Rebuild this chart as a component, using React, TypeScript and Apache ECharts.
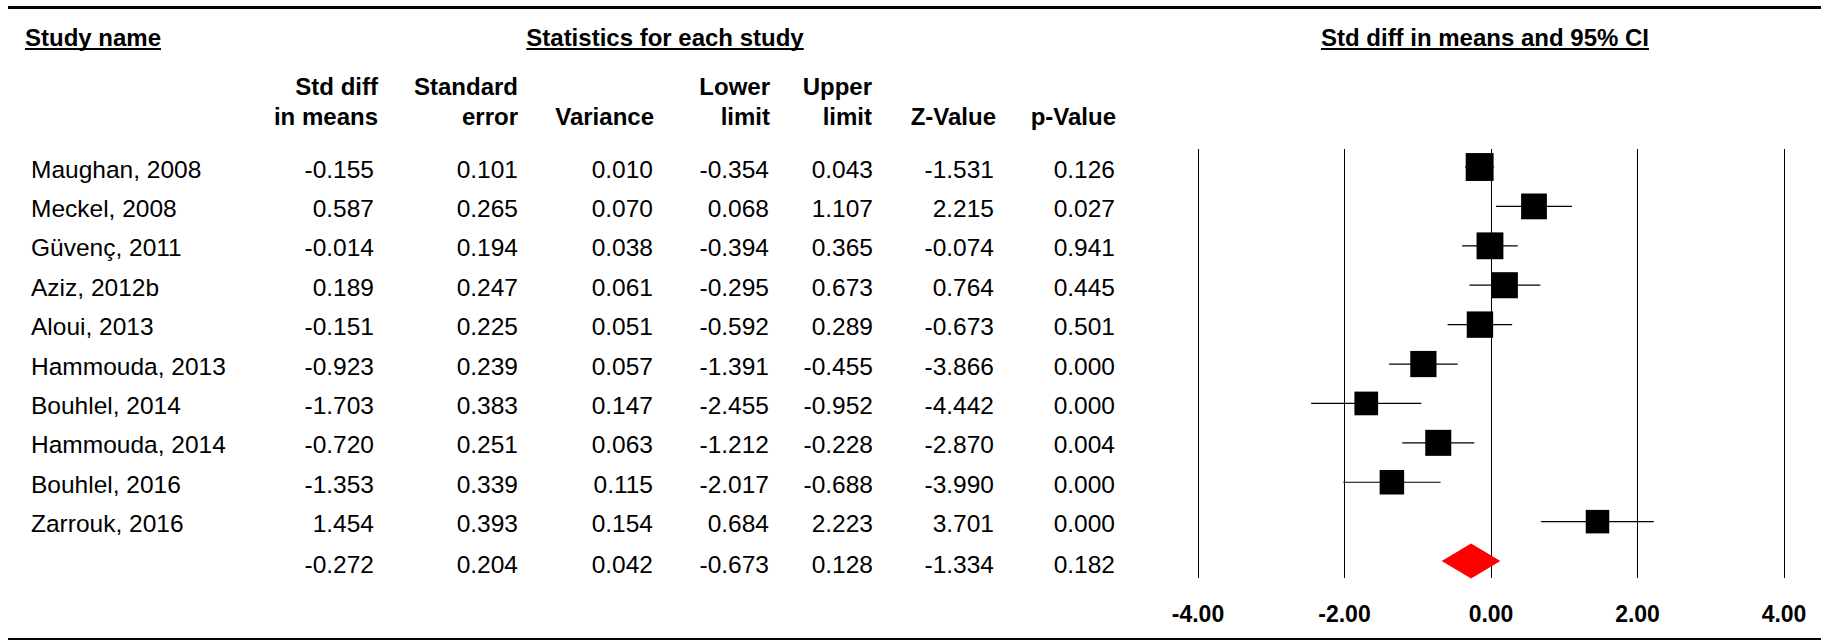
import React, { useEffect, useRef } from "react";
import * as echarts from "echarts";

// ---------- data ----------
const studies = [
  "Maughan, 2008",
  "Meckel, 2008",
  "Güvenç, 2011",
  "Aziz, 2012b",
  "Aloui, 2013",
  "Hammouda, 2013",
  "Bouhlel, 2014",
  "Hammouda, 2014",
  "Bouhlel, 2016",
  "Zarrouk, 2016",
];
const stdDiff = [-0.155, 0.587, -0.014, 0.189, -0.151, -0.923, -1.703, -0.72, -1.353, 1.454];
const stdErr = [0.101, 0.265, 0.194, 0.247, 0.225, 0.239, 0.383, 0.251, 0.339, 0.393];
const variance = [0.01, 0.07, 0.038, 0.061, 0.051, 0.057, 0.147, 0.063, 0.115, 0.154];
const lowerLimit = [-0.354, 0.068, -0.394, -0.295, -0.592, -1.391, -2.455, -1.212, -2.017, 0.684];
const upperLimit = [0.043, 1.107, 0.365, 0.673, 0.289, -0.455, -0.952, -0.228, -0.688, 2.223];
const zValue = [-1.531, 2.215, -0.074, 0.764, -0.673, -3.866, -4.442, -2.87, -3.99, 3.701];
const pValue = [0.126, 0.027, 0.941, 0.445, 0.501, 0.0, 0.0, 0.004, 0.0, 0.0];
// combined (random effects) row: std diff, SE, variance, lower, upper, Z, p
const summaryRow = [-0.272, 0.204, 0.042, -0.673, 0.128, -1.334, 0.182];
const xTicks = [-4, -2, 0, 2, 4];

const headerLine1 = ["Std diff", "Standard", "", "Lower", "Upper", "", ""];
const headerLine2 = ["in means", "error", "Variance", "limit", "limit", "Z-Value", "p-Value"];

// ---------- layout ----------
const FONT = "Arial, 'Liberation Sans', Helvetica, sans-serif";
const PLOT_LEFT = 1198;
const PLOT_WIDTH = 586;
const PLOT_TOP = 149;
const PLOT_BOTTOM = 578;
const Y_MIN = -0.457;
const Y_MAX = 10.43;
const HEADER_RIGHT = [378, 518, 654, 770, 872, 996, 1116];
const DATA_RIGHT = [374, 518, 653, 769, 873, 994, 1115];
const NAME_LEFT = 31;

const rowY = (i: number) =>
  PLOT_TOP + ((i - Y_MIN) / (Y_MAX - Y_MIN)) * (PLOT_BOTTOM - PLOT_TOP);

function measure(text: string, font: string): number {
  const c = document.createElement("canvas").getContext("2d");
  if (!c) return text.length * 12;
  c.font = font;
  return c.measureText(text).width;
}

// DerSimonian-Laird between-study variance (for box sizes = weights)
function tau2DL(): number {
  const w = variance.map((v) => 1 / v);
  const sw = w.reduce((a, b) => a + b, 0);
  const sw2 = w.reduce((a, b) => a + b * b, 0);
  const mean = w.reduce((a, wi, i) => a + wi * stdDiff[i], 0) / sw;
  const q = w.reduce((a, wi, i) => a + wi * (stdDiff[i] - mean) ** 2, 0);
  const c = sw - sw2 / sw;
  return Math.max(0, (q - (w.length - 1)) / c);
}

export default function App() {
  const ref = useRef<HTMLDivElement>(null);

  useEffect(() => {
    if (!ref.current) return;
    const chart = echarts.init(ref.current, undefined, { renderer: "svg" });

    const tau2 = tau2DL();
    const boxSize = variance.map((v) => 16.6 * Math.sqrt(1 / (v + tau2)));

    const graphics: any[] = [];
    const boldFont = `bold 24px ${FONT}`;

    // top and bottom rules
    graphics.push({
      type: "rect",
      shape: { x: 8, y: 6, width: 1821 - 8, height: 3 },
      style: { fill: "#000" },
    });
    graphics.push({
      type: "rect",
      shape: { x: 8, y: 638, width: 1821 - 8, height: 2 },
      style: { fill: "#000" },
    });

    // underlined section titles
    const titles = [
      { text: "Study name", x: 25, align: "left" },
      { text: "Statistics for each study", x: 665, align: "center" },
      { text: "Std diff in means and 95% CI", x: 1485, align: "center" },
    ];
    titles.forEach((t) => {
      const w = measure(t.text, boldFont);
      const x0 = t.align === "left" ? t.x : t.x - w / 2;
      graphics.push({
        type: "text",
        style: {
          text: t.text,
          x: t.x,
          y: 37,
          align: t.align,
          verticalAlign: "middle",
          fontFamily: FONT,
          fontSize: 24,
          fontWeight: "bold",
          fill: "#000",
        },
      });
      graphics.push({
        type: "rect",
        shape: { x: x0, y: 48, width: w, height: 2 },
        style: { fill: "#000" },
      });
    });

    // column headers
    HEADER_RIGHT.forEach((xr, c) => {
      [headerLine1[c], headerLine2[c]].forEach((txt, k) => {
        if (!txt) return;
        graphics.push({
          type: "text",
          style: {
            text: txt,
            x: xr,
            y: k === 0 ? 86 : 116,
            align: "right",
            verticalAlign: "middle",
            fontFamily: FONT,
            fontSize: 24,
            fontWeight: "bold",
            fill: "#000",
          },
        });
      });
    });

    // study rows
    const cols = [stdDiff, stdErr, variance, lowerLimit, upperLimit, zValue, pValue];
    const bodyText = (text: string, x: number, y: number, align: string) => ({
      type: "text",
      style: {
        text,
        x,
        y,
        align,
        verticalAlign: "middle",
        fontFamily: FONT,
        fontSize: 24.5,
        fill: "#000",
      },
    });
    studies.forEach((name, i) => {
      const y = rowY(i) + 2;
      graphics.push(bodyText(name, NAME_LEFT, y, "left"));
      cols.forEach((arr, c) => {
        graphics.push(bodyText(arr[i].toFixed(3), DATA_RIGHT[c], y, "right"));
      });
    });
    summaryRow.forEach((v, c) => {
      graphics.push(bodyText(v.toFixed(3), DATA_RIGHT[c], rowY(studies.length) + 3, "right"));
    });

    const studyData = studies.map((_, i) => [
      i,
      stdDiff[i],
      lowerLimit[i],
      upperLimit[i],
      boxSize[i],
    ]);
    const summaryData = [[studies.length, summaryRow[0], summaryRow[3], summaryRow[4]]];

    chart.setOption({
      animation: false,
      grid: {
        left: PLOT_LEFT,
        width: PLOT_WIDTH,
        top: PLOT_TOP,
        height: PLOT_BOTTOM - PLOT_TOP,
        containLabel: false,
      },
      xAxis: {
        type: "value",
        min: xTicks[0],
        max: xTicks[xTicks.length - 1],
        interval: 2,
        axisLine: { show: false },
        axisTick: { show: false },
        splitLine: { show: true, lineStyle: { color: "#000", width: 1 } },
        axisLabel: {
          formatter: (v: number) => v.toFixed(2),
          fontFamily: FONT,
          fontSize: 23,
          fontWeight: "bold",
          color: "#000",
          margin: 24,
        },
      },
      yAxis: {
        type: "value",
        min: Y_MIN,
        max: Y_MAX,
        inverse: true,
        show: false,
        splitLine: { show: false },
      },
      series: [
        {
          type: "custom",
          data: studyData,
          encode: { x: [1, 2, 3], y: 0 },
          renderItem: (params: any, api: any) => {
            const i = api.value(0);
            const est = api.coord([api.value(1), i]);
            const lo = api.coord([api.value(2), i]);
            const hi = api.coord([api.value(3), i]);
            const s = api.value(4);
            return {
              type: "group",
              children: [
                {
                  type: "line",
                  shape: { x1: lo[0], y1: lo[1], x2: hi[0], y2: hi[1] },
                  style: { stroke: "#000", lineWidth: 1.2 },
                },
                {
                  type: "rect",
                  shape: { x: est[0] - s / 2, y: est[1] - s / 2, width: s, height: s },
                  style: { fill: "#000" },
                },
              ],
            };
          },
        },
        {
          type: "custom",
          data: summaryData,
          encode: { x: [1, 2, 3], y: 0 },
          renderItem: (params: any, api: any) => {
            const i = api.value(0);
            const est = api.coord([api.value(1), i]);
            const lo = api.coord([api.value(2), i]);
            const hi = api.coord([api.value(3), i]);
            const h = 17.5;
            return {
              type: "polygon",
              shape: {
                points: [
                  [lo[0], est[1]],
                  [est[0], est[1] - h],
                  [hi[0], est[1]],
                  [est[0], est[1] + h],
                ],
              },
              style: { fill: "#ff0000" },
            };
          },
        },
      ],
      graphic: graphics,
    });

    return () => chart.dispose();
  }, []);

  return (
    <div
      ref={ref}
      style={{ position: "absolute", left: 0, top: 0, width: 1821, height: 641, background: "#fff" }}
    />
  );
}
